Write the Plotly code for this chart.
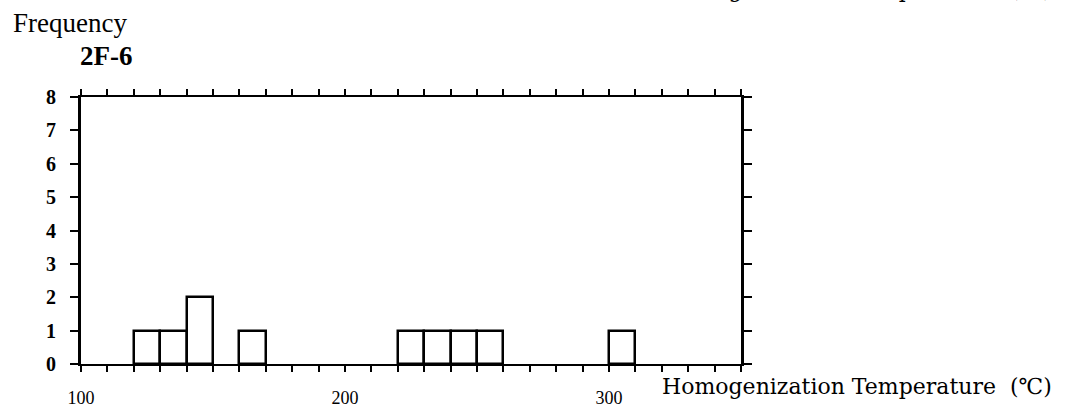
import plotly.graph_objects as go

# ---- data ----
bin_starts = [120, 130, 140, 160, 220, 230, 240, 250, 300]
counts = [1, 1, 2, 1, 1, 1, 1, 1, 1]
bin_width = 10
x_tick_values = list(range(100, 351, 10))
x_tick_labels = ["100" if v == 100 else "200" if v == 200 else "300" if v == 300 else "" for v in x_tick_values]
y_tick_values = [0, 1, 2, 3, 4, 5, 6, 7, 8]
y_title = "Frequency"
sample_name = "2F-6"
x_title = "Homogenization Temperature\u00a0\u00a0(\u2103)"

fig = go.Figure()
fig.add_trace(go.Bar(
    x=bin_starts, y=counts, width=bin_width, offset=0,
    marker=dict(color="white", line=dict(color="black", width=2.5)),
    showlegend=False,
))

serif = "Liberation Serif, Times New Roman, serif"
fig.update_layout(
    width=1070, height=409,
    margin=dict(l=81, r=329, t=97, b=45, autoexpand=False),
    paper_bgcolor="white", plot_bgcolor="white",
    bargap=0,
    xaxis=dict(
        range=[100, 350], tickmode="array", tickvals=x_tick_values, ticktext=x_tick_labels,
        ticks="outside", ticklen=6, tickwidth=1.5, tickcolor="black",
        showline=True, linewidth=1.5, linecolor="black", mirror="ticks",
        showgrid=False, zeroline=False, ticklabelstandoff=11, automargin=False,
        tickfont=dict(family=serif, size=18, color="black"),
    ),
    yaxis=dict(
        range=[0, 8], tickmode="array", tickvals=y_tick_values,
        ticks="outside", ticklen=8, tickwidth=2, tickcolor="black",
        showline=True, linewidth=3, linecolor="black", mirror="ticks",
        showgrid=False, zeroline=False, ticklabelstandoff=10, automargin=False,
        tickfont=dict(family=serif, size=20, color="black", weight=700),
    ),
    annotations=[
        dict(text=y_title, xref="paper", yref="paper", x=-0.106, y=1.276,
             xanchor="left", yanchor="middle", showarrow=False,
             font=dict(family=serif, size=27, color="black")),
        dict(text=sample_name, xref="paper", yref="paper", x=-0.004, y=1.152,
             xanchor="left", yanchor="middle", showarrow=False,
             font=dict(family=serif, size=27, color="black", weight=700)),
        dict(text=x_title, xref="paper", yref="paper", x=0.877, y=-0.086,
             xanchor="left", yanchor="middle", showarrow=False,
             font=dict(family="DejaVu Serif, serif", size=22, color="black")),
        dict(text=x_title, xref="paper", yref="paper", x=0.877, y=1.404,
             xanchor="left", yanchor="middle", showarrow=False,
             font=dict(family="DejaVu Serif, serif", size=22, color="black")),
    ],
)

fig.write_html("out.html", config={"displayModeBar": False},
               post_script="document.body.style.margin='0';")
